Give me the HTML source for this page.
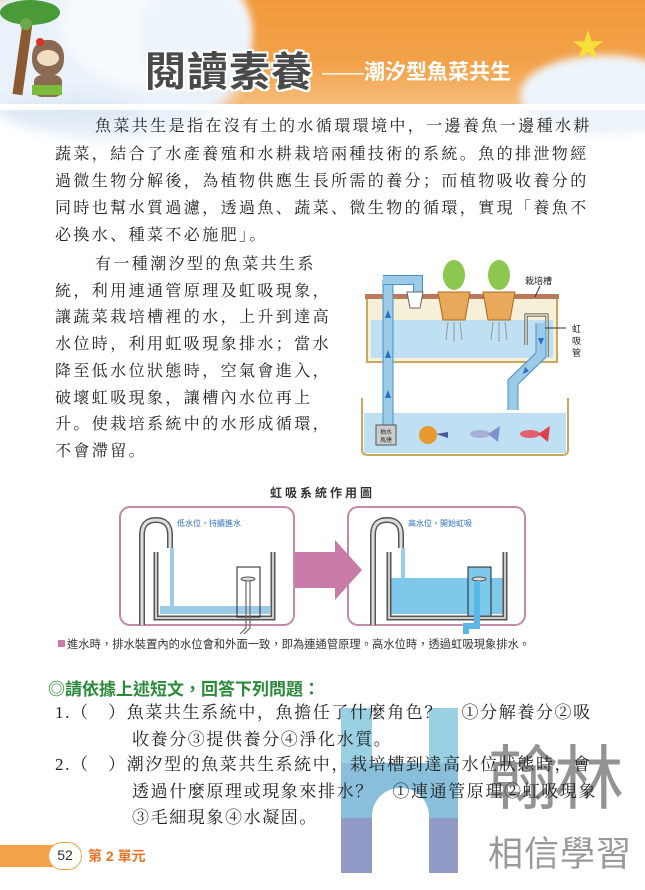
<!DOCTYPE html>
<html><head><meta charset="utf-8">
<style>
*{margin:0;padding:0;box-sizing:border-box}
body{width:645px;height:890px;background:#fff;position:relative;overflow:hidden;font-family:"Liberation Serif","Noto Serif CJK SC","Noto Sans CJK TC",serif;color:#222}
.abs{position:absolute}
.line{position:absolute;white-space:nowrap;font-size:16px;letter-spacing:2.4px;line-height:20px}
.sans{font-family:"Liberation Sans","Noto Sans CJK TC",sans-serif}
</style></head><body>

<!-- header -->
<div class="abs" style="left:0;top:0;width:645px;height:108px;background:linear-gradient(180deg,#f19a3c 0%,#f3a24a 60%,#f6c080 100%)"></div>
<div class="abs" style="left:-40px;top:-30px;width:290px;height:170px;border-radius:50%;background:#e9f2fa;filter:blur(6px)"></div>
<div class="abs" style="left:60px;top:-40px;width:190px;height:130px;border-radius:50%;background:#f6f9fd;filter:blur(5px)"></div>
<div class="abs" style="left:140px;top:-20px;width:110px;height:110px;border-radius:50%;background:#eef4fb;filter:blur(4px)"></div>
<div class="abs" style="left:0;top:95px;width:140px;height:30px;border-radius:50%;background:#dfe9f4;filter:blur(6px)"></div>
<div class="abs" style="left:520px;top:55px;width:170px;height:80px;border-radius:50%;background:#eef4fb;filter:blur(4px)"></div>
<div class="abs" style="left:0;top:104px;width:645px;height:6px;background:#fff"></div>
<!-- palm & sloth -->
<div class="abs" style="left:18px;top:15px;width:10px;height:80px;background:#8a5a30;transform:rotate(8deg)"></div>
<div class="abs" style="left:0;top:0;width:60px;height:25px;border-radius:50%;background:#4a9a3a"></div>
<div class="abs" style="left:20px;top:18px;width:12px;height:12px;border-radius:50%;background:#6aa84a"></div>
<div class="abs" style="left:32px;top:40px;width:32px;height:36px;border-radius:45%;background:#8b6a52"></div>
<div class="abs" style="left:37px;top:50px;width:22px;height:16px;border-radius:50%;background:#f1ddc4"></div>
<div class="abs" style="left:34px;top:75px;width:28px;height:22px;border-radius:30%;background:#8b6a52"></div>
<div class="abs" style="left:32px;top:85px;width:30px;height:10px;background:#7cbc3a"></div>
<div class="abs" style="left:36px;top:38px;width:8px;height:8px;border-radius:50%;background:#e0302a"></div>
<!-- star -->
<div class="abs" style="left:570px;top:26px;font-size:40px;color:#f7df3a;font-family:'DejaVu Sans',sans-serif;line-height:40px">★</div>
<div class="abs sans" style="left:145px;top:48px;font-size:41px;font-weight:bold;color:#4a4a4a;letter-spacing:1px;line-height:48px;text-shadow:2px 0 #fff,-2px 0 #fff,0 2px #fff,0 -2px #fff,2px 2px #fff,-2px -2px #fff,2px -2px #fff,-2px 2px #fff">閱讀素養</div>
<div class="abs sans" style="left:322px;top:60px;font-size:21px;font-weight:bold;color:#fff;line-height:26px;white-space:nowrap"><span style="font-weight:normal">——</span>潮汐型魚菜共生</div>

<!-- paragraph 1 -->
<div class="line" style="left:95px;top:117px">魚菜共生是指在沒有土的水循環環境中，一邊養魚一邊種水耕</div>
<div class="line" style="left:55px;top:145px">蔬菜，結合了水產養殖和水耕栽培兩種技術的系統。魚的排泄物經</div>
<div class="line" style="left:55px;top:172px">過微生物分解後，為植物供應生長所需的養分；而植物吸收養分的</div>
<div class="line" style="left:55px;top:199px">同時也幫水質過濾，透過魚、蔬菜、微生物的循環，實現「養魚不</div>
<div class="line" style="left:55px;top:226px">必換水、種菜不必施肥」。</div>

<!-- paragraph 2 -->
<div class="line" style="left:95px;top:255px">有一種潮汐型的魚菜共生系</div>
<div class="line" style="left:55px;top:282px">統，利用連通管原理及虹吸現象，</div>
<div class="line" style="left:55px;top:308px">讓蔬菜栽培槽裡的水，上升到達高</div>
<div class="line" style="left:55px;top:335px">水位時，利用虹吸現象排水；當水</div>
<div class="line" style="left:55px;top:362px">降至低水位狀態時，空氣會進入，</div>
<div class="line" style="left:55px;top:389px">破壞虹吸現象，讓槽內水位再上</div>
<div class="line" style="left:55px;top:415px">升。使栽培系統中的水形成循環，</div>
<div class="line" style="left:55px;top:442px">不會滯留。</div>

<!-- tank diagram -->
<svg class="abs" style="left:340px;top:250px" width="250" height="210" viewBox="0 0 250 210">
 <rect x="27" y="47" width="190" height="65" fill="#f7f0d8" stroke="#c8a860" stroke-width="2"/>
 <rect x="31" y="70" width="182" height="38" fill="#bfe0f2"/>
 <rect x="25" y="44" width="194" height="5" fill="#b87a5a"/>
 <path d="M22 148 V200 Q22 205 28 205 H222 Q228 205 228 200 V148" fill="#fff" stroke="#c8a860" stroke-width="2"/>
 <rect x="24" y="163" width="202" height="40" fill="#bfe0f2"/>
 <rect x="43" y="30" width="10" height="145" fill="#9ccbe8" stroke="#4a90c8" stroke-width="1"/>
 <path d="M43 30 H78 V45" fill="none" stroke="#4a90c8" stroke-width="10"/>
 <path d="M43 30 H78 V45" fill="none" stroke="#9ccbe8" stroke-width="8"/>
 <polygon points="67,42 83,42 80,58 70,58" fill="#fff" stroke="#666"/>
 <polygon points="48,60 45,68 51,68" fill="#2a70c0"/>
 <polygon points="48,100 45,108 51,108" fill="#2a70c0"/>
 <polygon points="48,140 45,148 51,148" fill="#2a70c0"/>
 <rect x="36" y="175" width="20" height="20" fill="#ccc" stroke="#555"/>
 <text x="46" y="184" font-size="6" text-anchor="middle" fill="#333" font-family="Noto Sans CJK TC,sans-serif">抽水</text>
 <text x="46" y="192" font-size="6" text-anchor="middle" fill="#333" font-family="Noto Sans CJK TC,sans-serif">馬達</text>
 <polygon points="98,42 130,42 125,70 103,70" fill="#e9a85a" stroke="#a86a2a"/>
 <polygon points="143,42 175,42 170,70 148,70" fill="#e9a85a" stroke="#a86a2a"/>
 <ellipse cx="114" cy="25" rx="11" ry="15" fill="#8cc850"/>
 <ellipse cx="159" cy="25" rx="11" ry="15" fill="#8cc850"/>
 <path d="M108 72 L106 90 M114 72 V92 M120 72 L122 90 M153 72 L151 90 M159 72 V92 M165 72 L167 90" stroke="#999"/>
 <path d="M186 95 V65 H207 V107" fill="none" stroke="#333" stroke-width="3"/>
 <path d="M186 95 V65 H207 V107" fill="none" stroke="#f7f0d8" stroke-width="1.5"/>
 <path d="M201 73 V105 L173 132 V160" fill="none" stroke="#4a90c8" stroke-width="11"/>
 <path d="M201 73 V105 L173 132 V160" fill="none" stroke="#9ccbe8" stroke-width="9"/>
 <polygon points="201,95 198,88 204,88" fill="#2a70c0"/>
 <polygon points="183,124 185,117 189,121" fill="#2a70c0"/>
 <line x1="205" y1="78" x2="226" y2="78" stroke="#333"/>
 <line x1="195" y1="47" x2="200" y2="36" stroke="#333"/>
 <text x="185" y="34" font-size="9" fill="#222" font-family="Noto Sans CJK TC,sans-serif">栽培槽</text>
 <text x="232" y="82" font-size="9" fill="#222" font-family="Noto Sans CJK TC,sans-serif">虹</text>
 <text x="232" y="94" font-size="9" fill="#222" font-family="Noto Sans CJK TC,sans-serif">吸</text>
 <text x="232" y="106" font-size="9" fill="#222" font-family="Noto Sans CJK TC,sans-serif">管</text>
 <ellipse cx="88" cy="185" rx="9" ry="9" fill="#e89a30"/><path d="M96 184 L108 182 L108 188 Z" fill="#4a5aa0"/>
 <ellipse cx="140" cy="184" rx="10" ry="4" fill="#aab0d8"/><path d="M148 184 L160 176 L158 192 Z" fill="#8090d0"/>
 <ellipse cx="190" cy="184" rx="10" ry="4" fill="#e06070"/><path d="M198 184 L210 176 L208 192 Z" fill="#e04050"/>
</svg>

<!-- siphon diagram -->
<div class="abs sans" style="left:0;width:645px;top:484px;text-align:center;font-size:12px;font-weight:bold;letter-spacing:3px;color:#333">虹吸系統作用圖</div>
<svg class="abs" style="left:100px;top:500px" width="440" height="135" viewBox="0 0 440 135">
 <rect x="20" y="7" width="174" height="118" rx="10" fill="#fff" stroke="#c48aa8" stroke-width="2"/>
 <rect x="248" y="7" width="177" height="118" rx="10" fill="#fff" stroke="#c48aa8" stroke-width="2"/>
 <polygon points="195,52 235,52 235,40 262,70 235,100 235,88 195,88" fill="#c87aa8"/>
 <rect x="60" y="106" width="110" height="8" fill="#9ccbe8"/>
 <rect x="70" y="48" width="4" height="60" fill="#9ccbe8"/>
 <path d="M42 125 V35 Q42 20 56 20 Q70 20 70 35 V48" fill="none" stroke="#555" stroke-width="6"/>
 <path d="M42 125 V35 Q42 20 56 20 Q70 20 70 35 V48" fill="none" stroke="#ddd" stroke-width="3"/>
 <path d="M56 52 V118 H173 V52" fill="none" stroke="#555" stroke-width="5"/>
 <path d="M56 52 V118 H173 V52" fill="none" stroke="#ccc" stroke-width="2"/>
 <rect x="137" y="67" width="23" height="50" fill="none" stroke="#222"/>
 <ellipse cx="148" cy="79" rx="7" ry="2" fill="#ddd" stroke="#555"/>
 <path d="M146 81 V128 L140 134 M150 81 V128 L144 134" fill="none" stroke="#666" stroke-width="1.2"/>
 <text x="77" y="26" font-size="8" fill="#2a70c0" font-family="Noto Sans CJK TC,sans-serif">低水位，持續進水</text>
 <rect x="291" y="78" width="112" height="36" fill="#7ec8ea"/>
 <rect x="368" y="67" width="23" height="50" fill="#7ec8ea" stroke="#222"/>
 <rect x="301" y="48" width="4" height="30" fill="#9ccbe8"/>
 <path d="M273 125 V35 Q273 20 287 20 Q301 20 301 35 V48" fill="none" stroke="#555" stroke-width="6"/>
 <path d="M273 125 V35 Q273 20 287 20 Q301 20 301 35 V48" fill="none" stroke="#ddd" stroke-width="3"/>
 <path d="M289 52 V118 H405 V52" fill="none" stroke="#555" stroke-width="5"/>
 <path d="M289 52 V118 H405 V52" fill="none" stroke="#ccc" stroke-width="2"/>
 <ellipse cx="379" cy="79" rx="7" ry="2" fill="#ddd" stroke="#555"/>
 <path d="M377 81 V126 H366 V134" fill="none" stroke="#5ab8e8" stroke-width="6"/>
 <text x="308" y="26" font-size="8" fill="#2a70c0" font-family="Noto Sans CJK TC,sans-serif">高水位，開始虹吸</text>
</svg>
<div class="abs" style="left:58px;top:640px;width:7px;height:7px;background:#c87aa8"></div>
<div class="abs sans" style="left:67px;top:636px;font-size:11.3px;white-space:nowrap;color:#333">進水時，排水裝置內的水位會和外面一致，即為連通管原理。高水位時，透過虹吸現象排水。</div>

<!-- watermark -->
<div class="abs" style="left:341px;top:708px;width:117px;height:165px;opacity:0.9">
 <div class="abs" style="left:0;top:0;width:31px;height:55px;background:#8fcbe2"></div>
 <div class="abs" style="left:88px;top:0;width:29px;height:55px;background:#8fcbe2"></div>
 <div class="abs" style="left:0;top:55px;width:117px;height:55px;background:#7eb9d8"></div>
 <div class="abs" style="left:0;top:110px;width:31px;height:55px;background:#8690c0"></div>
 <div class="abs" style="left:88px;top:110px;width:29px;height:55px;background:#8690c0"></div>
 <div class="abs" style="left:31px;top:80px;width:57px;height:85px;background:#fff;border-radius:28px 28px 0 0"></div>
</div>
<div class="abs sans" style="left:488px;top:738px;font-size:70px;line-height:82px;color:#888;opacity:0.9;letter-spacing:-4px">翰林</div>
<div class="abs sans" style="left:488px;top:834px;font-size:35px;line-height:42px;color:#999;letter-spacing:1px">相信學習</div>

<!-- questions -->
<div class="abs sans" style="left:48px;top:675px;font-size:17px;font-weight:bold;color:#2a8a3a;white-space:nowrap">◎請依據上述短文，回答下列問題：</div>
<div class="line" style="left:55px;top:703px;font-size:17px;letter-spacing:1.6px">1.（　）魚菜共生系統中，魚擔任了什麼角色？　①分解養分②吸</div>
<div class="line" style="left:132px;top:730px;font-size:17px;letter-spacing:1.6px">收養分③提供養分④淨化水質。</div>
<div class="line" style="left:55px;top:755px;font-size:17px;letter-spacing:1.6px">2.（　）潮汐型的魚菜共生系統中，栽培槽到達高水位狀態時，會</div>
<div class="line" style="left:132px;top:782px;font-size:17px;letter-spacing:1.6px">透過什麼原理或現象來排水？　①連通管原理②虹吸現象</div>
<div class="line" style="left:132px;top:808px;font-size:17px;letter-spacing:1.6px">③毛細現象④水凝固。</div>

<!-- footer -->
<div class="abs" style="left:0;top:845px;width:60px;height:22px;background:#f3a24a"></div>
<div class="abs sans" style="left:48px;top:842px;width:34px;height:28px;border-radius:14px;background:#fff;border:1.5px solid #f3a24a;font-size:14px;text-align:center;line-height:25px;color:#333">52</div>
<div class="abs sans" style="left:88px;top:846px;font-size:14px;font-weight:bold;color:#e8752a">第 2 單元</div>
</body></html>
